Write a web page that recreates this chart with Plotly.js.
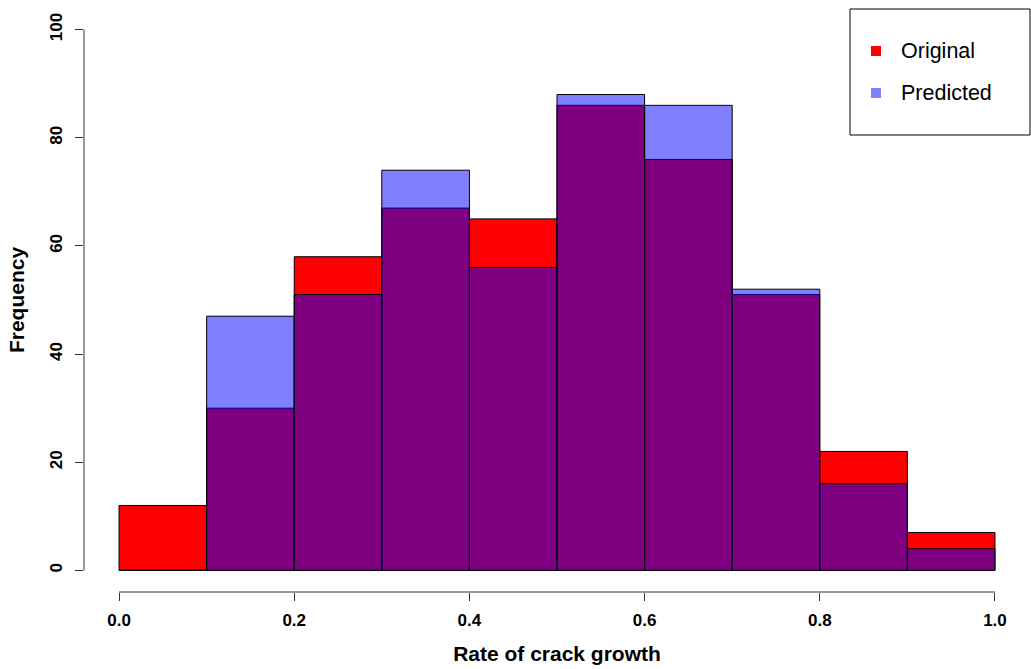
<!DOCTYPE html>
<html>
<head>
<meta charset="utf-8">
<script src="https://cdn.plot.ly/plotly-3.0.1.min.js"></script>
<style>html,body{margin:0;padding:0;background:#fff;}#chart{width:1031px;height:669px;}</style>
</head>
<body>
<div id="chart"></div>
<script>
// Histogram bins (left edges, width 0.1)
const binLeft = [0.0, 0.1, 0.2, 0.3, 0.4, 0.5, 0.6, 0.7, 0.8, 0.9];
const binWidth = 0.1;
// Frequencies
const originalCounts = [12, 30, 58, 67, 65, 86, 76, 51, 22, 7];
const predictedCounts = [0, 47, 51, 74, 56, 88, 86, 52, 16, 4];
// Tick labels
const xTickVals = [0.0, 0.2, 0.4, 0.6, 0.8, 1.0];
const xTickText = ["0.0", "0.2", "0.4", "0.6", "0.8", "1.0"];
const yTickVals = [0, 20, 40, 60, 80, 100];
const yTickText = ["0", "20", "40", "60", "80", "100"];
const seriesNames = ["Original", "Predicted"];

const W = 1031, H = 669;
const M = {l: 84, r: 1, t: 8, b: 77};
const PW = W - M.l - M.r, PH = H - M.t - M.b;
const px = x => (x - M.l) / PW;
const py = y => (H - M.b - y) / PH;

const font = "Liberation Sans, Arial, Helvetica, sans-serif";
const axisCol = "#333";

const traces = [
  {
    type: "bar", name: seriesNames[0], x: binLeft, y: originalCounts,
    width: binWidth, offset: 0,
    marker: {color: "rgb(255,0,0)", line: {color: "#000", width: 1}},
    showlegend: false, hoverinfo: "x+y"
  },
  {
    type: "bar", name: seriesNames[1], x: binLeft, y: predictedCounts,
    width: binWidth, offset: 0,
    marker: {color: "rgba(0,0,255,0.5)", line: {color: "#000", width: 1}},
    showlegend: false, hoverinfo: "x+y"
  }
];

const legendItems = [
  {name: seriesNames[0], color: "rgb(255,0,0)", yc: 51},
  {name: seriesNames[1], color: "rgb(128,128,255)", yc: 93}
];

const shapes = [
  // x axis line from 0 to 1
  {type: "line", xref: "x", yref: "paper", x0: xTickVals[0], x1: xTickVals[xTickVals.length-1], y0: 0, y1: 0,
   line: {color: axisCol, width: 1}},
  // y axis line from 0 to 100
  {type: "line", xref: "paper", yref: "y", x0: 0, x1: 0, y0: yTickVals[0], y1: yTickVals[yTickVals.length-1],
   line: {color: axisCol, width: 1}},
  // legend box
  {type: "rect", xref: "paper", yref: "paper", x0: px(850), x1: px(1030), y0: py(135), y1: py(9),
   line: {color: "#000", width: 1}, fillcolor: "rgba(255,255,255,0)"}
];
const annotations = [];
legendItems.forEach(it => {
  shapes.push({type: "rect", xref: "paper", yref: "paper",
    x0: px(871), x1: px(881), y0: py(it.yc + 5), y1: py(it.yc - 5),
    line: {width: 0}, fillcolor: it.color});
  annotations.push({xref: "paper", yref: "paper", x: px(899), y: py(it.yc),
    xanchor: "left", yanchor: "middle", showarrow: false, text: it.name,
    font: {family: font, size: 21.5, color: "#000"}});
});

const layout = {
  width: W, height: H,
  margin: M,
  paper_bgcolor: "#fff", plot_bgcolor: "#fff",
  barmode: "overlay", bargap: 0,
  showlegend: false,
  xaxis: {
    range: [-0.04, 1.04], showgrid: false, zeroline: false, showline: false,
    tickmode: "array", tickvals: xTickVals, ticktext: xTickText,
    ticks: "outside", ticklen: 8, tickcolor: axisCol, tickwidth: 1,
    tickfont: {family: font, size: 17, color: "#000", weight: "bold"},
    ticklabelstandoff: 5,
    title: {text: "Rate of crack growth", font: {family: font, size: 21, color: "#000", weight: "bold"}, standoff: 16},
    automargin: false, fixedrange: true
  },
  yaxis: {
    range: [-4, 104], showgrid: false, zeroline: false, showline: false,
    tickmode: "array", tickvals: yTickVals, ticktext: yTickText,
    ticks: "outside", ticklen: 8, tickcolor: axisCol, tickwidth: 1, tickangle: -90,
    tickfont: {family: font, size: 17, color: "#000", weight: "bold"},
    ticklabelstandoff: 6,
    title: {text: "Frequency", font: {family: font, size: 21, color: "#000", weight: "bold"}, standoff: 16},
    automargin: false, fixedrange: true
  },
  shapes: shapes,
  annotations: annotations
};

Plotly.newPlot("chart", traces, layout, {displayModeBar: false, staticPlot: true});
</script>
</body>
</html>
